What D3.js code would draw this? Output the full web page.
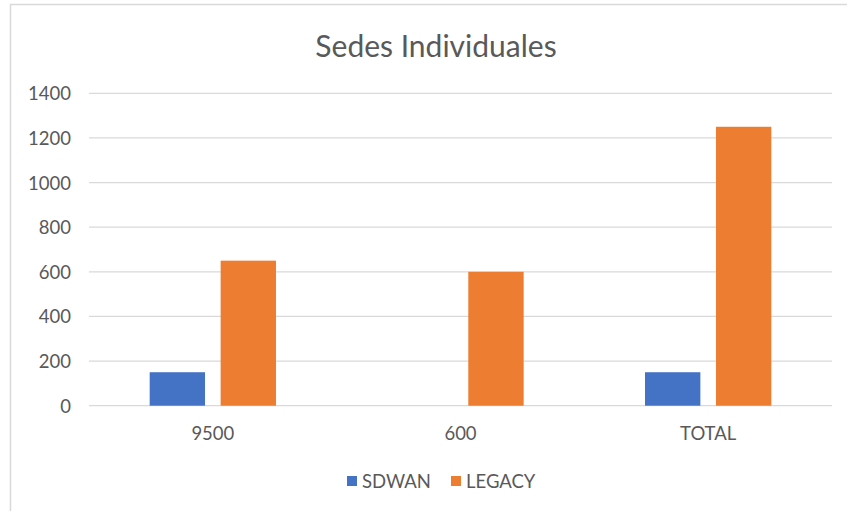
<!DOCTYPE html>
<html>
<head>
<meta charset="utf-8">
<script src="https://cdn.jsdelivr.net/npm/d3@7"></script>
<style>
  html, body { margin: 0; padding: 0; background: #fff; }
  svg { display: block; }
  text { font-family: Lato, "Open Sans", sans-serif; fill: #595959; }
</style>
</head>
<body>
<svg id="chart" width="847" height="511"></svg>
<script>
// Chart data
const categories = ["9500", "600", "TOTAL"];
const seriesNames = ["SDWAN", "LEGACY"];
const sdwanValues = [150, 0, 150];
const legacyValues = [650, 600, 1250];
const yTicks = [0, 200, 400, 600, 800, 1000, 1200, 1400];
const chartTitle = "Sedes Individuales";

const seriesColors = { SDWAN: "#4472C4", LEGACY: "#ED7D31" };
const seriesValues = { SDWAN: sdwanValues, LEGACY: legacyValues };

const svg = d3.select("#chart");
const plot = { left: 89, right: 832, top: 93.3, bottom: 405.7 };

// Outer chart frame (continues past the right and bottom edges)
svg.append("rect")
  .attr("x", 10.5).attr("y", 4.5)
  .attr("width", 900).attr("height", 600)
  .attr("fill", "#fff").attr("stroke", "#D9D9D9").attr("stroke-width", 1.5);

const x0 = d3.scaleBand().domain(categories).range([plot.left, plot.right]).padding(0);
const groupFrac = 0.51;
const x1 = d3.scaleBand().domain(seriesNames)
  .range([x0.bandwidth() * (1 - groupFrac) / 2, x0.bandwidth() * (1 + groupFrac) / 2])
  .paddingInner(0.22).paddingOuter(0);
const y = d3.scaleLinear().domain([0, 1400]).range([plot.bottom, plot.top]);

// Gridlines
svg.append("g").selectAll("line").data(yTicks).join("line")
  .attr("x1", plot.left).attr("x2", plot.right)
  .attr("y1", d => y(d)).attr("y2", d => y(d))
  .attr("stroke", "#D9D9D9").attr("stroke-width", 1.3);

// Y axis labels
const yAxis = d3.axisLeft(y).tickValues(yTicks).tickFormat(d3.format("d")).tickSize(0).tickPadding(0);
const yg = svg.append("g").attr("transform", `translate(71,0)`).call(yAxis);
yg.select(".domain").remove();
yg.selectAll("text").attr("font-size", 18.5).attr("font-family", "Lato, sans-serif")
  .attr("fill", "#595959").attr("dy", "0.35em");

// Bars
const groups = svg.append("g").selectAll("g").data(categories).join("g")
  .attr("transform", d => `translate(${x0(d)},0)`);
groups.selectAll("rect")
  .data((c, i) => seriesNames.map(s => ({ s, v: seriesValues[s][i] })))
  .join("rect")
  .attr("x", d => x1(d.s))
  .attr("width", x1.bandwidth())
  .attr("y", d => y(d.v))
  .attr("height", d => y(0) - y(d.v))
  .attr("fill", d => seriesColors[d.s]);

// X axis labels
const xAxis = d3.axisBottom(x0).tickSize(0).tickPadding(0);
const xg = svg.append("g").attr("transform", `translate(0,427)`).call(xAxis);
xg.select(".domain").remove();
xg.selectAll("text").attr("font-size", 18.5).attr("font-family", "Lato, sans-serif")
  .attr("fill", "#595959").attr("dy", "0.35em").attr("y", 7);

// Title
svg.append("text")
  .attr("x", 436).attr("y", 45)
  .attr("text-anchor", "middle").attr("dominant-baseline", "central")
  .attr("font-size", 30)
  .text(chartTitle);

// Legend
const legendItems = [
  { name: "SDWAN", sx: 347, tx: 362 },
  { name: "LEGACY", sx: 451, tx: 466 }
];
const lg = svg.append("g");
lg.selectAll("rect").data(legendItems).join("rect")
  .attr("x", d => d.sx).attr("y", 476).attr("width", 10).attr("height", 10)
  .attr("fill", d => seriesColors[d.name]);
lg.selectAll("text").data(legendItems).join("text")
  .attr("x", d => d.tx).attr("y", 481)
  .attr("dominant-baseline", "central")
  .attr("font-size", 18.5)
  .text(d => d.name);
</script>
</body>
</html>
